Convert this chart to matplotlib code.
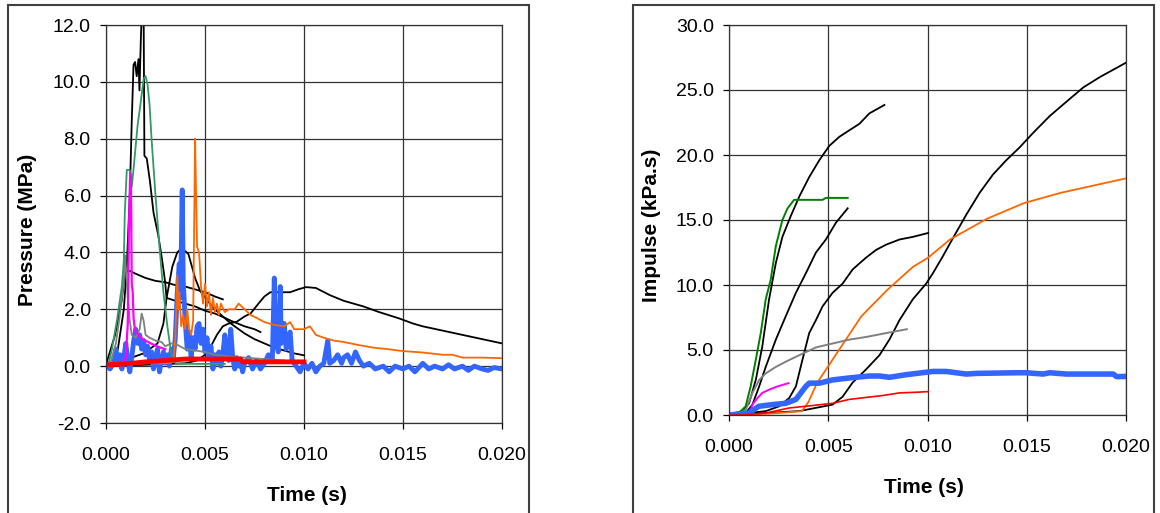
"""
Pressure and impulse time histories, two Excel-style panels side by side.
Values read by eye off the original chart.
"""
import numpy as np
import matplotlib
matplotlib.use("Agg")
import matplotlib.pyplot as plt
from matplotlib.patches import Rectangle

plt.rcParams["font.family"] = ["Liberation Sans", "DejaVu Sans"]

# ---------------- left panel: pressure (MPa) vs time (s) ----------------
# black A: tall spike (clipped at 12) with a long tail ending at 0.0078 s
pA_t = [0.0, 0.0003, 0.0006, 0.0009, 0.00105, 0.0012, 0.0013, 0.00139, 0.00147, 0.00155,
        0.00164, 0.00169, 0.00176, 0.00181, 0.00186, 0.0019, 0.00194, 0.00206, 0.00222,
        0.0024, 0.00264, 0.00281, 0.00298, 0.00306, 0.0035, 0.004, 0.0045, 0.005, 0.0055,
        0.006, 0.0063, 0.007, 0.0075, 0.0078]
pA_p = [0.05, 0.1, 0.6, 2.0, 3.5, 6.0, 8.6, 10.6, 10.7, 10.2, 10.8, 9.7, 11.5, 12.5, 13.0,
        12.5, 7.4, 7.3, 6.5, 5.4, 4.6, 3.85, 3.0, 2.4, 2.3, 2.2, 2.1, 1.95, 1.85, 1.7, 1.6,
        1.4, 1.3, 1.2]
# black B: 3.3 MPa plateau, ends at 0.006 s
pB_t = [0.0, 0.00046, 0.00079, 0.00096, 0.0012, 0.0015, 0.002, 0.0025, 0.003, 0.0035,
        0.004, 0.0045, 0.005, 0.0055, 0.0059]
pB_p = [0.05, 1.1, 2.3, 3.3, 3.35, 3.25, 3.1, 3.0, 2.95, 2.85, 2.8, 2.7, 2.6, 2.45, 2.35]
# black C: peak 4.1 near 0.0038 s, ends at 0.010 s
pC_t = [0.0, 0.0007, 0.0019, 0.0026, 0.0029, 0.00306, 0.00335, 0.0036, 0.00374, 0.0039,
        0.00416, 0.0045, 0.00475, 0.0054, 0.0063, 0.007, 0.0075, 0.008, 0.0085, 0.009,
        0.0095, 0.01]
pC_p = [0.0, 0.15, 0.45, 0.8, 1.5, 2.4, 3.5, 4.0, 4.1, 4.1, 3.95, 3.1, 2.65, 2.06, 1.5,
        1.15, 0.95, 0.8, 0.65, 0.55, 0.45, 0.38]
# black E: late broad pulse, peak 2.8 near 0.010 s
pE_t = [0.0, 0.002, 0.004, 0.0046, 0.005, 0.0053, 0.0056, 0.0059, 0.0062, 0.0066, 0.007,
        0.0073, 0.0077, 0.008, 0.0083, 0.0087, 0.0093, 0.0097, 0.0101, 0.0106, 0.0113,
        0.012, 0.013, 0.0138, 0.0148, 0.0155, 0.016, 0.017, 0.018, 0.019, 0.02]
pE_p = [0.0, 0.05, 0.1, 0.2, 0.4, 0.7, 1.1, 1.4, 1.5, 1.56, 1.75, 1.85, 2.2, 2.45, 2.6,
        2.6, 2.6, 2.7, 2.78, 2.75, 2.5, 2.3, 2.1, 1.9, 1.68, 1.5, 1.4, 1.25, 1.1, 0.95, 0.8]
# green: peak 10.2
pG_t = [0.0001, 0.0003, 0.00055, 0.0008, 0.0009, 0.00095, 0.00105, 0.0012, 0.0013, 0.0014,
        0.0016, 0.0017, 0.0019, 0.002, 0.0021, 0.0022, 0.0023, 0.0024, 0.0025, 0.0026,
        0.0027, 0.0028, 0.0029, 0.003, 0.0031, 0.0032, 0.0033, 0.0034, 0.0036, 0.0045, 0.006]
pG_p = [0.0, 0.6, 1.6, 2.8, 3.7, 5.4, 6.9, 6.9, 6.3, 7.0, 8.5, 9.0, 10.1, 10.2, 9.9, 9.2,
        8.0, 7.0, 6.0, 5.1, 4.2, 3.4, 2.6, 2.0, 1.4, 0.9, 0.4, 0.15, 0.08, 0.08, 0.08]
# magenta: sharp 6.8 spike
pM_t = [0.0003, 0.0008, 0.001, 0.0011, 0.00115, 0.00122, 0.00126, 0.0013, 0.00135, 0.00139,
        0.00147, 0.0017, 0.00189, 0.0022, 0.00257, 0.003]
pM_p = [0.05, 0.1, 0.3, 1.5, 4.5, 6.8, 6.6, 2.9, 2.6, 1.7, 1.24, 1.05, 0.94, 0.82, 0.7, 0.59]
# gray
pY_t = [0.0002, 0.0005, 0.0007, 0.0009, 0.00096, 0.001, 0.0011, 0.0012, 0.0013, 0.0015,
        0.0017, 0.0018, 0.0019, 0.002, 0.0022, 0.0025, 0.0028, 0.003, 0.0033, 0.0036,
        0.004, 0.0045, 0.005, 0.0055, 0.006, 0.007, 0.008, 0.009]
pY_p = [0.05, 0.8, 1.8, 3.0, 3.9, 3.5, 2.4, 1.6, 1.1, 1.0, 1.3, 1.85, 1.6, 1.1, 1.0, 0.9,
        0.85, 0.7, 0.8, 0.75, 0.6, 0.55, 0.5, 0.4, 0.35, 0.3, 0.25, 0.2]
# orange
pO_t = [0.0, 0.001, 0.002, 0.003, 0.0034, 0.0035, 0.0036, 0.00365, 0.0037, 0.0038, 0.0039,
        0.004, 0.0041, 0.0042, 0.0043, 0.0044, 0.0045, 0.00455, 0.0046, 0.0047, 0.0048,
        0.0049, 0.005, 0.0051, 0.0052, 0.0053, 0.0054, 0.0055, 0.0056, 0.0057, 0.0058,
        0.006, 0.0062, 0.0065, 0.0067, 0.007, 0.0073, 0.0076, 0.008, 0.0085, 0.009, 0.0093,
        0.0095, 0.01, 0.0103, 0.0106, 0.011, 0.0115, 0.012, 0.0127, 0.0135, 0.0142, 0.015,
        0.016, 0.017, 0.0175, 0.018, 0.019, 0.02]
pO_p = [0.05, 0.05, 0.1, 0.1, 0.15, 1.0, 3.2, 2.0, 2.6, 1.4, 1.8, 1.3, 2.0, 1.3, 1.1, 1.6,
        8.0, 6.0, 4.2, 4.0, 2.8, 2.2, 2.9, 2.1, 2.6, 1.8, 2.4, 1.9, 2.2, 1.8, 2.2, 1.9, 2.0,
        2.0, 2.2, 2.0, 1.8, 1.7, 1.55, 1.45, 1.4, 1.55, 1.3, 1.3, 1.4, 1.1, 1.0, 0.9, 0.85,
        0.75, 0.65, 0.6, 0.53, 0.48, 0.4, 0.4, 0.3, 0.3, 0.28]
# blue (thick, noisy)
pBl_t = [0.0, 0.0002, 0.0004, 0.0005, 0.0006, 0.0007, 0.0008, 0.0009, 0.001, 0.0011,
         0.0012, 0.0013, 0.0014, 0.0015, 0.0016, 0.0017, 0.0018, 0.0019, 0.002, 0.0021,
         0.0022, 0.0023, 0.0024, 0.0025, 0.0026, 0.0027, 0.0028, 0.0029, 0.003, 0.0031,
         0.0032, 0.0033, 0.0034, 0.0035, 0.0036, 0.0037, 0.00375, 0.0038, 0.00385, 0.0039,
         0.004, 0.0041, 0.0042, 0.0043, 0.0044, 0.0045, 0.0046, 0.0047, 0.0048, 0.0049,
         0.005, 0.0051, 0.0052, 0.0053, 0.0054, 0.0055, 0.0056, 0.0057, 0.0058, 0.0059,
         0.006, 0.0061, 0.0062, 0.0063, 0.0064, 0.0065, 0.0066, 0.0067, 0.0068, 0.0069,
         0.007, 0.0072, 0.0074, 0.0076, 0.0078, 0.008, 0.0082, 0.0084, 0.0085, 0.00855,
         0.0087, 0.0088, 0.00885, 0.009, 0.0091, 0.0092, 0.0093, 0.0094, 0.0096, 0.0098,
         0.01, 0.0102, 0.0104, 0.0106, 0.0108, 0.011, 0.0112, 0.0113, 0.0115, 0.0117,
         0.0119, 0.012, 0.0122, 0.0124, 0.0126, 0.0128, 0.013, 0.0133, 0.0136, 0.014,
         0.0143, 0.0146, 0.015, 0.0153, 0.0156, 0.016, 0.0163, 0.0166, 0.017, 0.0173,
         0.0176, 0.018, 0.0183, 0.0186, 0.019, 0.0193, 0.0196, 0.02]
pBl_p = [0.05, -0.1, 0.1, 0.6, 0.1, 0.4, -0.1, 0.3, 0.8, 0.2, -0.2, 0.3, 0.9, 1.3, 0.8,
         1.1, 0.6, 0.9, 0.4, 0.7, 0.2, 0.5, -0.1, 0.3, 0.6, -0.2, 0.2, 0.5, 0.1, 0.4, 0.0,
         0.6, 0.3, 1.0, 2.6, 3.6, 2.4, 4.0, 6.2, 3.0, 1.6, 0.6, 1.2, 0.3, 1.0, 0.6, 1.4,
         1.5, 0.8, 1.3, 0.5, 1.0, 0.3, 0.7, -0.1, 0.4, 0.1, 0.5, 0.0, 0.4, 1.1, 0.5, 0.2,
         1.3, 0.3, -0.1, 0.3, 0.0, 0.2, -0.2, 0.1, 0.3, -0.1, 0.2, -0.1, 0.1, 0.4, 0.2, 3.1,
         1.0, 0.5, 2.8, 0.8, 1.5, 0.6, 1.0, 1.2, 0.2, 0.0, -0.2, 0.1, -0.1, 0.1, -0.2, 0.0,
         0.1, 0.9, 0.1, 0.2, 0.4, 0.1, 0.3, 0.4, 0.1, 0.5, 0.2, 0.0, 0.1, -0.1, 0.0, -0.2,
         0.0, -0.1, 0.0, -0.2, 0.1, -0.1, 0.0, -0.1, 0.05, -0.1, 0.0, -0.15, 0.0, -0.1,
         -0.15, -0.05, -0.1]
# red (thick, near zero)
pR_t = [0.0, 0.001, 0.002, 0.003, 0.004, 0.005, 0.006, 0.0068, 0.0069, 0.008, 0.009, 0.01]
pR_p = [0.05, 0.08, 0.15, 0.2, 0.25, 0.25, 0.25, 0.25, 0.15, 0.15, 0.15, 0.15]

# ---------------- right panel: impulse (kPa.s) vs time (s) ----------------
iF_t = [0.0, 0.00067, 0.00101, 0.00135, 0.00168, 0.00202, 0.00236, 0.00269, 0.00311,
        0.00354, 0.00404, 0.00455, 0.00505, 0.00556, 0.00606, 0.00657, 0.00707, 0.00783]
iF_i = [0.0, 0.3, 0.9, 2.7, 5.3, 8.9, 11.7, 13.7, 15.3, 16.8, 18.3, 19.6, 20.7, 21.4,
        21.9, 22.4, 23.2, 23.85]
iG_t = [0.0, 0.00084, 0.00118, 0.00152, 0.00185, 0.00236, 0.00286, 0.00337, 0.00387,
        0.00438, 0.00488, 0.00539, 0.00598]
iG_i = [0.0, 0.15, 0.8, 2.2, 3.7, 5.8, 7.6, 9.4, 10.9, 12.5, 13.5, 14.8, 15.9]
iC_t = [0.0, 0.00101, 0.00185, 0.00253, 0.00303, 0.00337, 0.0037, 0.00404, 0.00438,
        0.00471, 0.00522, 0.00572, 0.00623, 0.0069, 0.00741, 0.00791, 0.00859, 0.00926,
        0.01003]
iC_i = [0.0, 0.15, 0.3, 0.67, 1.3, 2.2, 4.25, 6.3, 7.3, 8.35, 9.4, 10.1, 11.2, 12.1, 12.7,
        13.1, 13.5, 13.7, 14.0]
iE_t = [0.0, 0.00185, 0.00354, 0.00522, 0.00572, 0.00623, 0.0069, 0.00758, 0.00808,
        0.00859, 0.00926, 0.00993, 0.01027, 0.01077, 0.01128, 0.01195, 0.01263, 0.0133,
        0.01397, 0.01465, 0.01532, 0.01616, 0.017, 0.01785, 0.01869, 0.02]
iE_i = [0.0, 0.15, 0.3, 0.8, 1.4, 2.5, 3.5, 4.6, 5.8, 7.3, 8.9, 10.1, 10.9, 12.2, 13.6,
        15.4, 17.1, 18.5, 19.6, 20.6, 21.7, 23.0, 24.1, 25.2, 26.0, 27.1]
iGr_t = [0.0, 0.0005, 0.00084, 0.00109, 0.00135, 0.0016, 0.00185, 0.0021, 0.00236,
         0.00269, 0.00295, 0.00328, 0.00354, 0.00471, 0.00488, 0.00598]
iGr_i = [0.0, 0.15, 0.67, 2.2, 4.25, 6.3, 8.9, 10.4, 13.0, 15.0, 15.9, 16.55, 16.55,
         16.55, 16.7, 16.7]
iO_t = [0.0, 0.002, 0.00368, 0.004, 0.00443, 0.00554, 0.00667, 0.00796, 0.00927, 0.01003,
        0.01113, 0.013, 0.01486, 0.01673, 0.02]
iO_i = [0.0, 0.1, 0.3, 1.0, 2.45, 5.0, 7.6, 9.6, 11.4, 12.1, 13.5, 15.1, 16.3, 17.1, 18.2]
iY_t = [0.0, 0.00084, 0.00118, 0.00152, 0.00185, 0.00236, 0.00286, 0.00354, 0.00438,
        0.00522, 0.00606, 0.0069, 0.00791, 0.00896]
iY_i = [0.0, 0.4, 1.7, 2.7, 3.2, 3.7, 4.1, 4.6, 5.2, 5.5, 5.8, 6.0, 6.3, 6.6]
iM_t = [0.00101, 0.00118, 0.00143, 0.00168, 0.00202, 0.00244, 0.003]
iM_i = [0.0, 0.8, 1.3, 1.7, 1.95, 2.2, 2.45]
iBl_t = [0.0, 0.001, 0.0015, 0.00219, 0.00286, 0.00337, 0.00362, 0.00387, 0.00404,
         0.00455, 0.00522, 0.00606, 0.00707, 0.00758, 0.00808, 0.00892, 0.01027, 0.01094,
         0.01195, 0.01246, 0.0145, 0.01498, 0.01582, 0.01616, 0.017, 0.01936, 0.01953, 0.02]
iBl_i = [0.0, 0.15, 0.67, 0.8, 0.9, 1.2, 1.7, 2.2, 2.45, 2.45, 2.7, 2.85, 3.0, 3.0, 2.9,
         3.1, 3.35, 3.35, 3.15, 3.2, 3.25, 3.25, 3.15, 3.25, 3.15, 3.15, 2.95, 2.97]
iR_t = [0.0, 0.00067, 0.00185, 0.00303, 0.00404, 0.00522, 0.00606, 0.0069, 0.00775,
        0.00859, 0.00943, 0.01003]
iR_i = [0.0, 0.0, 0.15, 0.54, 0.7, 0.9, 1.2, 1.35, 1.5, 1.7, 1.75, 1.8]

BLACK, GRAY, ORANGE = "black", "#808080", "#FF6600"
MAGENTA, BLUE, RED = "#FF00FF", "#3366FF", "#FF0000"

W, H = 1160, 513
fig = plt.figure(figsize=(W / 100, H / 100), dpi=100)

# the two chart-area boxes (open at the bottom, as in the original screenshot)
for x0, x1 in [(8, 529), (633, 1154)]:
    fig.patches.append(Rectangle((x0 / W, -0.05), (x1 - x0) / W, 1.05 - 5 / H,
                                 transform=fig.transFigure, fill=False,
                                 edgecolor="#404040", linewidth=1.5))

axL = fig.add_axes([106 / W, 1 - 423 / H, 396 / W, 398 / H])
axR = fig.add_axes([729 / W, 1 - 415 / H, 397 / W, 390 / H])


def style(ax, ylim, yticks, ylabel, ylab_xy, xlab_xy):
    ax.set_xlim(0, 0.02)
    ax.set_ylim(*ylim)
    ax.set_xticks(np.arange(0, 0.0201, 0.005))
    ax.set_yticks(yticks)
    ax.xaxis.set_major_formatter(matplotlib.ticker.FormatStrFormatter("%.3f"))
    ax.yaxis.set_major_formatter(matplotlib.ticker.FormatStrFormatter("%.1f"))
    ax.grid(True, color="#333333", linewidth=0.9)
    ax.set_axisbelow(True)
    for s in ax.spines.values():
        s.set_color("#333333")
        s.set_linewidth(0.9)
    ax.tick_params(axis="x", direction="out", length=4, width=0.9, pad=13, labelsize=14)
    ax.tick_params(axis="y", direction="out", length=4, width=0.9, pad=7, labelsize=14)
    ax.text(*ylab_xy, ylabel, transform=ax.transAxes, rotation=90, ha="center",
            va="center", fontsize=15, fontweight="bold")
    ax.text(*xlab_xy, "Time (s)", transform=ax.transAxes, ha="center", va="center",
            fontsize=15, fontweight="bold")


style(axL, (-2, 12), np.arange(-2, 12.1, 2), "Pressure (MPa)", (-0.197, 0.485), (0.508, -0.181))
style(axR, (0, 30), np.arange(0, 30.1, 5), "Impulse (kPa.s)", (-0.194, 0.487), (0.491, -0.187))

# left: pressure traces
for t, p in [(pA_t, pA_p), (pB_t, pB_p), (pC_t, pC_p), (pE_t, pE_p)]:
    axL.plot(t, p, color=BLACK, lw=1.3)
axL.plot(pBl_t, pBl_p, color=BLUE, lw=3.5, solid_joinstyle="round")
axL.plot(pY_t, pY_p, color=GRAY, lw=1.3)
axL.plot(pG_t, pG_p, color="#339966", lw=1.3)
axL.plot(pO_t, pO_p, color=ORANGE, lw=1.3)
axL.plot(pM_t, pM_p, color=MAGENTA, lw=1.6)
axL.plot(pR_t, pR_p, color=RED, lw=3.5)

# right: impulse traces
for t, i in [(iF_t, iF_i), (iG_t, iG_i), (iC_t, iC_i), (iE_t, iE_i)]:
    axR.plot(t, i, color=BLACK, lw=1.3)
axR.plot(iO_t, iO_i, color=ORANGE, lw=1.3)
axR.plot(iY_t, iY_i, color=GRAY, lw=1.4)
axR.plot(iGr_t, iGr_i, color="#008000", lw=1.4)
axR.plot(iM_t, iM_i, color=MAGENTA, lw=1.4)
axR.plot(iBl_t, iBl_i, color=BLUE, lw=4, solid_capstyle="round")
axR.plot(iR_t, iR_i, color=RED, lw=1.2)

plt.savefig("out.png", dpi=100)
